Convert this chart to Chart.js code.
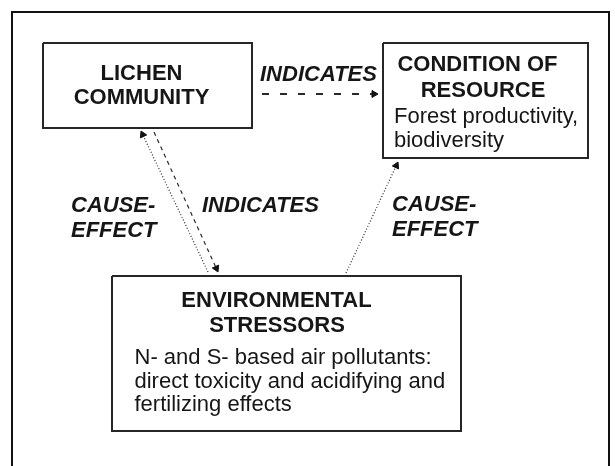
<!DOCTYPE html>
<html>
<head>
<meta charset="utf-8">
<title>Lichen community diagram</title>
<script src="https://cdn.jsdelivr.net/npm/chart.js@4.4.1/dist/chart.umd.min.js"></script>
<style>
  html, body { margin: 0; padding: 0; background: #fff; }
  #wrap { width: 615px; height: 466px; }
</style>
</head>
<body>
<div id="wrap"><canvas id="diagram" width="615" height="466"></canvas></div>
<script>
// Diagram drawn on a scatter chart; diagram units = reference pixels (x right, y down)
const VIEW_W = 615, VIEW_H = 466;

// ---- Boxes: [left, top, right, bottom] ----
const boxNames = ["lichen", "condition", "stressors"];
const boxEdges = [[43, 43, 252, 128], [383, 43, 588, 158], [112, 276, 461, 431]];

// ---- Outer frame (open at the bottom) ----
const frameX = [12, 12, 609, 609];
const frameY = [466, 12, 12, 466];

// ---- Connectors: arrowhead sits on the "to" end ----
const linkNames = ["indicates-top", "cause-left", "indicates-left", "cause-right"];
const linkFrom = [[262, 94], [208, 272], [154, 132], [346, 273]];
const linkTo   = [[378, 94], [141, 131], [218, 272], [398, 162]];
const linkDash = [[7, 11], [1, 2], [4, 4], [1, 2]];
const linkWidth = [1.8, 1.2, 1.2, 1.2];

// ---- Bold headings (centred) ----
const headText = ["LICHEN", "COMMUNITY", "CONDITION OF", "RESOURCE", "ENVIRONMENTAL", "STRESSORS"];
const headX = [141.5, 141.5, 477.5, 483, 276.5, 277];
const headY = [80, 104, 71, 96.5, 306.5, 332];

// ---- Plain text (left aligned) ----
const bodyText = ["Forest productivity,", "biodiversity",
  "N- and S- based air pollutants:", "direct toxicity and acidifying and", "fertilizing effects"];
const bodyX = [394, 394, 134.5, 134.5, 134.5];
const bodyY = [123, 147, 364, 387.5, 411];

// ---- Relation labels (bold italic, left aligned) ----
const relText = ["INDICATES", "CAUSE-", "EFFECT", "INDICATES", "CAUSE-", "EFFECT"];
const relX = [260, 71, 71, 202, 392, 392];
const relY = [81, 212, 237, 212, 211, 236];

const INK = "#161616";
const BOX_INK = "#262626";
const LINK_INK = "#2a2a2a";
const FONT = "'Liberation Sans', Arial, sans-serif";
const HEAD_R = 4; // arrowhead radius

const $ = (sel) => document.querySelector(sel);

// ---------- Builders ----------
function boxDataset(edges, name) {
  const [l, t, r, b] = edges;
  return {
    label: name,
    data: [{x:l, y:t}, {x:r, y:t}, {x:r, y:b}, {x:l, y:b}, {x:l, y:t}],
    showLine: true, pointRadius: 0, borderColor: BOX_INK, borderWidth: 2,
    borderJoinStyle: "miter", tension: 0
  };
}

function linkDataset(i) {
  const [fx, fy] = linkFrom[i], [tx, ty] = linkTo[i];
  const len = Math.hypot(tx - fx, ty - fy);
  // stop the line at the back of the arrowhead
  const ex = tx - (tx - fx) / len * HEAD_R * 1.5;
  const ey = ty - (ty - fy) / len * HEAD_R * 1.5;
  return {
    label: linkNames[i],
    data: [{x:fx, y:fy}, {x:ex, y:ey}],
    showLine: true, pointRadius: 0, borderColor: LINK_INK, borderWidth: linkWidth[i],
    borderDash: linkDash[i], borderCapStyle: "butt", tension: 0
  };
}

function arrowHeads() {
  const pts = [], rot = [];
  linkTo.forEach(([tx, ty], i) => {
    const [fx, fy] = linkFrom[i];
    const dx = tx - fx, dy = ty - fy, len = Math.hypot(dx, dy);
    pts.push({ x: tx - dx / len * HEAD_R, y: ty - dy / len * HEAD_R });
    rot.push(Math.atan2(dx, -dy) * 180 / Math.PI);
  });
  return {
    label: "arrowheads", data: pts, pointStyle: "triangle",
    pointRadius: HEAD_R, pointRotation: rot,
    backgroundColor: "#111", borderColor: "#111", borderWidth: 1, showLine: false
  };
}

// text plugin: all words drawn through the chart scales
const textPlugin = {
  id: "diagramText",
  afterDatasetsDraw(chart) {
    const { ctx, scales: { x, y } } = chart;
    const put = (texts, xs, ys, font, align) => {
      ctx.font = font;
      ctx.textAlign = align;
      texts.forEach((t, i) => ctx.fillText(t, x.getPixelForValue(xs[i]), y.getPixelForValue(ys[i])));
    };
    ctx.save();
    ctx.fillStyle = INK;
    ctx.textBaseline = "alphabetic";
    put(headText, headX, headY, `bold 22px ${FONT}`, "center");
    put(bodyText, bodyX, bodyY, `22px ${FONT}`, "left");
    put(relText, relX, relY, `italic bold 22px ${FONT}`, "left");
    ctx.restore();
  }
};

// ---------- Render ----------
const datasets = [
  {
    label: "frame",
    data: frameX.map((v, i) => ({ x: v, y: frameY[i] })),
    showLine: true, pointRadius: 0, borderColor: "#111", borderWidth: 2,
    borderJoinStyle: "miter", tension: 0
  },
  ...boxEdges.map((e, i) => boxDataset(e, boxNames[i])),
  ...linkNames.map((_, i) => linkDataset(i)),
  arrowHeads()
];

new Chart($("#diagram"), {
  type: "scatter",
  data: { datasets },
  options: {
    responsive: false,
    animation: false,
    events: [],
    layout: { padding: 0, autoPadding: false },
    plugins: { legend: { display: false }, tooltip: { enabled: false } },
    scales: {
      x: { type: "linear", min: 0, max: VIEW_W, display: false },
      y: { type: "linear", min: 0, max: VIEW_H, reverse: true, display: false }
    }
  },
  plugins: [textPlugin]
});
</script>
</body>
</html>
